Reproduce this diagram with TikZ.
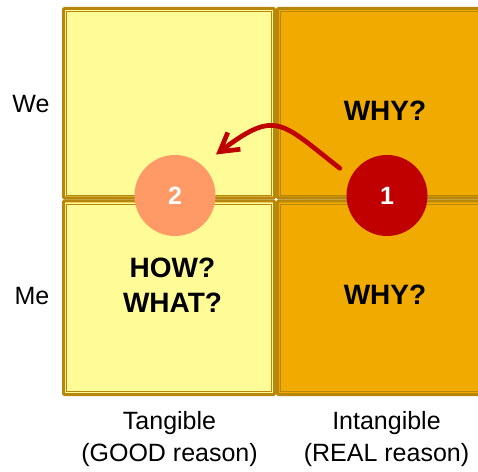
\documentclass[tikz,border=0pt]{standalone}
\usepackage{fontspec}
\setmainfont{Liberation Sans}
\usepackage{tikz}
\usetikzlibrary{arrows.meta}

\definecolor{paleyellow}{HTML}{FFFB96}
\definecolor{amber}{HTML}{F0AA00}
\definecolor{gold}{HTML}{B8860B}
\definecolor{salmon}{HTML}{FF9966}
\definecolor{darkred}{HTML}{C00000}

\tikzset{
  cell/.style={draw=gold, line width=3pt, rounded corners=1pt},
  innerline/.style={draw=gold, line width=0.9pt},
  bignum/.style={circle, minimum size=81pt, inner sep=0pt, text=white,
    font=\fontsize{25}{30}\selectfont\bfseries},
  question/.style={font=\fontsize{28}{35}\selectfont\bfseries, align=center, inner sep=0pt},
  axislabel/.style={font=\fontsize{25}{32}\selectfont, align=center, inner sep=0pt},
  flow/.style={draw=darkred, line width=4.7pt, line cap=round,
    -{Straight Barb[length=18pt,width=21pt]}}
}

\begin{document}
\begin{tikzpicture}[x=1pt,y=1pt]
\useasboundingbox (0,0) rectangle (478,471);

% Draw the four quadrants (double frame each)
\foreach \xa/\ya/\xb/\yb/\col in {62/271.5/276/464/paleyellow, 62/75/276/271.5/paleyellow,
    276/271.5/484/464/amber, 276/75/484/271.5/amber} {
  \filldraw[cell, fill=\col] ({\xa+1.5},{\ya+1.5}) rectangle ({\xb-1.5},{\yb-1.5});
  \draw[innerline] ({\xa+4.5},{\ya+4.5}) rectangle ({\xb-4.5},{\yb-4.5});
}

% Quadrant texts
\node[question, anchor=base] (whywe) at (385,350) {WHY?};
\node[question] (howwhat) at (172.5,185.5) {HOW?\\WHAT?};
\node[question, anchor=base] (whyme) at (385,167) {WHY?};

% Row labels
\node[axislabel, anchor=base] (we) at (31,358) {We};
\node[axislabel, anchor=base] (me) at (32,167) {Me};

% Column labels
\node[axislabel] (tangible) at (169.5,31.5) {Tangible\\(GOOD reason)};
\node[axislabel] (intangible) at (386.5,31.5) {Intangible\\(REAL reason)};

% Numbered steps on the middle line
\node[bignum, fill=salmon] (c2) at (175,275.5) {2};
\node[bignum, fill=darkred] (c1) at (387,275.5) {1};

% Curved arrow from 1 to 2
\path (c1) ++(150:54.5) coordinate (tail);
\path (c2) ++(45:58) coordinate (head);
\draw[flow] (tail) to[out=142, in=37, looseness=1.55] (head);
\end{tikzpicture}
\end{document}
